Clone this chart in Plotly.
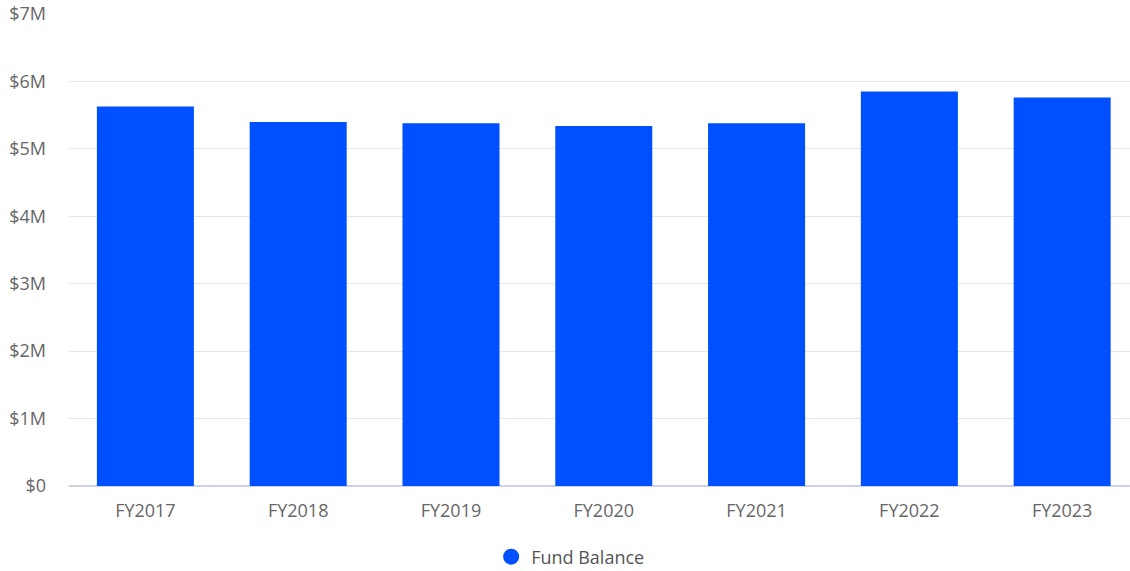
import plotly.graph_objects as go

categories = ["FY2017", "FY2018", "FY2019", "FY2020", "FY2021", "FY2022", "FY2023"]
fund_balance = [5.63e6, 5.40e6, 5.38e6, 5.34e6, 5.38e6, 5.85e6, 5.76e6]
tick_vals = [0, 1e6, 2e6, 3e6, 4e6, 5e6, 6e6, 7e6]
tick_text = ["$0", "$1M", "$2M", "$3M", "$4M", "$5M", "$6M", "$7M"]

BLUE = "#0050FF"
FONT = "Open Sans, Lato, sans-serif"

fig = go.Figure()
fig.add_trace(go.Bar(x=categories, y=fund_balance, marker_color=BLUE,
                     marker_line_width=0, showlegend=False, name="Fund Balance"))
fig.add_trace(go.Scatter(x=[None], y=[None], mode="markers", name="Fund Balance",
                         marker=dict(color=BLUE, size=17, symbol="circle")))

fig.update_layout(
    width=1130, height=571,
    margin=dict(l=69, r=0, t=14, b=85),
    paper_bgcolor="white", plot_bgcolor="white",
    font=dict(family=FONT, size=18, color="#666666"),
    bargap=0.365,
    showlegend=True,
    legend=dict(orientation="h", xref="container", x=0.505, xanchor="center",
                yref="container", y=1 - 557 / 571, yanchor="middle",
                font=dict(size=18, color="#555555")),
    xaxis=dict(showgrid=False, ticks="", showline=False, tickfont=dict(size=18),
               automargin=False, ticklabelstandoff=12, range=[-0.5, 6.444]),
    yaxis=dict(range=[0, 7e6], tickvals=tick_vals, ticktext=tick_text,
               showgrid=True, gridcolor="#e6e6e6", gridwidth=1,
               zeroline=True, zerolinecolor="#cdd2e4", zerolinewidth=1.5,
               ticklabelstandoff=22, tickfont=dict(size=18), automargin=False),
)

fig.write_html("out.html", config={"displayModeBar": False},
               post_script="document.body.style.margin='0';document.body.style.overflow='hidden';")
